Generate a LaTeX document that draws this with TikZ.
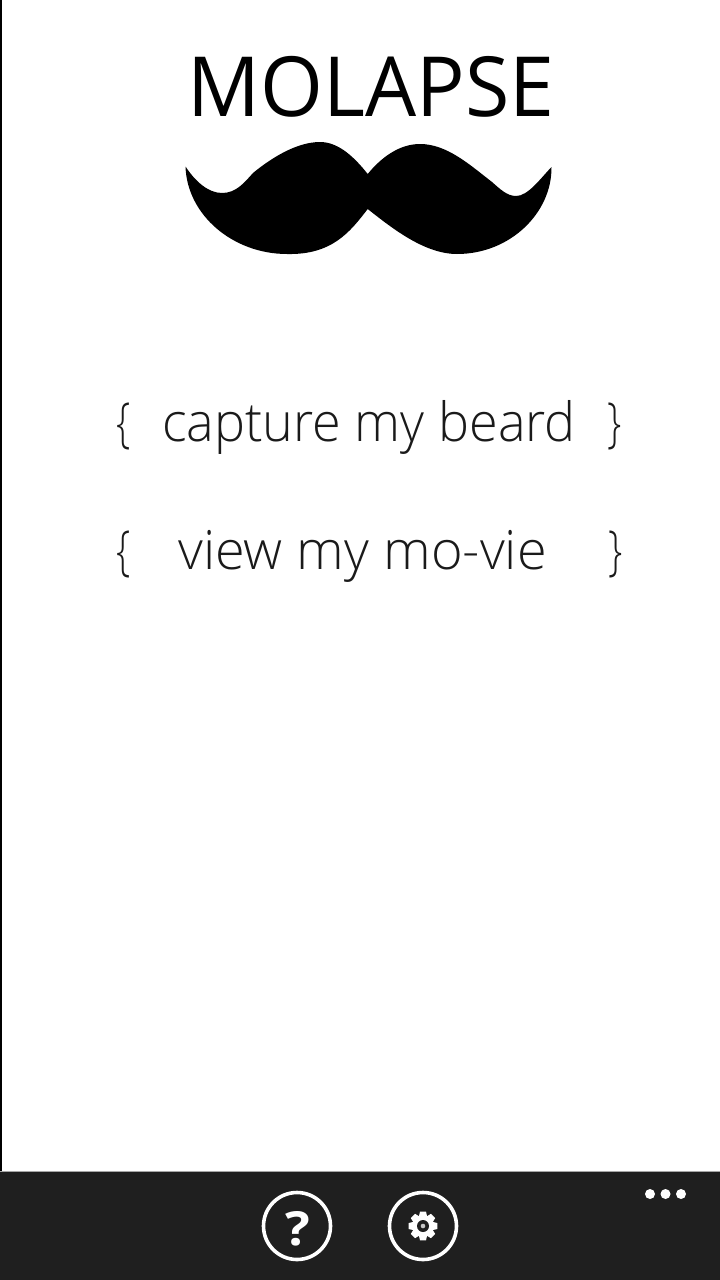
\documentclass[tikz,border=0pt]{standalone}
\usepackage{fontspec}
\setmainfont{Open Sans Light}
\newfontfamily\narrowf[FakeStretch=0.965]{Open Sans Light}
\newfontfamily\bracef[FakeStretch=0.75]{Open Sans Light}
\newfontfamily\boldf[FakeStretch=1.1]{Open Sans Bold}
\newfontfamily\regf[FakeStretch=0.973]{Open Sans}
\definecolor{barbg}{HTML}{1F1F1F}
\definecolor{ink}{HTML}{1A1A1A}
\tikzset{
  lab/.style={inner sep=0pt,outer sep=0pt,anchor=base,text=ink,font=\fontsize{54}{60}\selectfont},
  capt/.style={lab,font=\narrowf\fontsize{54}{60}\selectfont},
  brace/.style={lab,font=\bracef\fontsize{54}{60}\selectfont},
  ring/.style={draw=white,line width=3.6pt,fill=barbg,circle,minimum size=67pt,inner sep=0pt},
  dot/.style={fill=white,draw=none}
}
\begin{document}
\begin{tikzpicture}[x=1pt,y=-1pt]
\useasboundingbox (0,0) rectangle (720,1280);
\fill[white] (0,0) rectangle (720,1280);
\fill[black] (0,0) rectangle (1.6,1171);
\fill[barbg] (0,1171) rectangle (720,1280);
\fill[gray!70] (0,1171) rectangle (720,1172);
\node[inner sep=0pt,anchor=base,text=black,font=\regf\fontsize{83}{90}\selectfont] (title) at (371,116) {MOLAPSE};
\fill[black] (185.5,166.5)
  .. controls (195,181) and (208,193) .. (222,193)
  .. controls (236,193) and (244,183) .. (253,173)
  .. controls (270,159) and (296,142) .. (320,142)
  .. controls (339,142) and (355,158) .. (367.7,174)
  .. controls (380,159) and (398,144) .. (420,144)
  .. controls (447,144) and (470,165) .. (492,182)
  .. controls (500,189) and (507,196) .. (516,196)
  .. controls (528,196) and (540,179) .. (551.5,167)
  .. controls (552,213) and (510,254) .. (457,254)
  .. controls (425,254) and (393,229) .. (367.7,209)
  .. controls (350,232) and (332,255) .. (287,254)
  .. controls (233,254) and (187,215) .. (185.5,166.5) -- cycle;
\node[brace] (b1l) at (124,441) {\{};
\node[capt] (b1) at (369,441) {capture my beard};
\node[brace] (b1r) at (615,441) {\}};
\node[brace] (b2l) at (124,569) {\{};
\node[lab] (b2) at (362.5,569) {view my mo-vie};
\node[brace] (b2r) at (616,569) {\}};
\node[ring] (help) at (297,1226) {};
\node[inner sep=0pt,text=white,font=\boldf\fontsize{47}{50}\selectfont] (q) at (298,1229) {?};
\node[ring] (settings) at (423,1226) {};
\foreach \a in {0,45,...,315} {
  \fill[white,rotate around={\a:(423,1226)}] (420,1211.7) -- (426,1211.7) -- (427.5,1218) -- (418.5,1218) -- cycle;
}
\fill[white] (423,1226) circle[radius=10.5];
\fill[barbg] (423,1226) circle[radius=6];
\fill[white!75!barbg] (423,1226) circle[radius=2.3];
\fill[dot] (650,1194) circle[radius=5];
\fill[dot] (665.5,1194) circle[radius=5];
\fill[dot] (681,1194) circle[radius=5];
\end{tikzpicture}
\end{document}
